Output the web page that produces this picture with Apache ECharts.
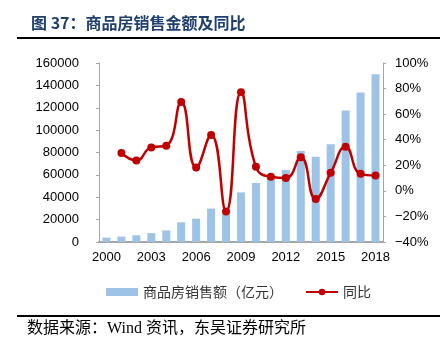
<!DOCTYPE html>
<html>
<head>
<meta charset="utf-8">
<script src="https://cdn.jsdelivr.net/npm/echarts@6/dist/echarts.min.js"></script>
<style>
  html, body { margin: 0; padding: 0; background: #fff; }
  #box { width: 440px; height: 353px; }
</style>
</head>
<body>
<div id="box"></div>
<script>
// 年份
var years = ['2000', '2001', '2002', '2003', '2004', '2005', '2006', '2007', '2008', '2009',
  '2010', '2011', '2012', '2013', '2014', '2015', '2016', '2017', '2018'];
// 商品房销售额（亿元）
var sales = [3935, 4863, 6032, 7956, 10376, 17576, 20826, 29889, 25068, 44355,
  52721, 58589, 64456, 81428, 76292, 87281, 117627, 133701, 149973];
// 同比（%），2000年无数据
var yoy = [null, 29.6, 23.8, 34, 35.3, 69.4, 18.3, 43.7, -16.2, 77.2,
  18.8, 11, 10, 26.2, -6.3, 14.1, 34.5, 13.3, 12];

var leftTicks = [0, 160000, 20000];
var rightTicks = [-40, 100, 20];

var axisGray = '#a6a6a6';
var font = '"Liberation Sans", Arial, sans-serif';
var cjk = '"Noto Sans CJK SC", sans-serif';

var myChart = echarts.init(document.getElementById('box'));

var option = {
  animation: false,
  title: {
    text: '图 37：商品房销售金额及同比',
    left: 26,
    top: 10,
    textStyle: {
      fontFamily: cjk,
      fontSize: 16,
      fontWeight: 'bold',
      color: '#1f3f6e'
    }
  },
  graphic: [
    {
      type: 'line',
      shape: { x1: 17, y1: 38, x2: 440, y2: 38 },
      style: { stroke: '#000', lineWidth: 2 }
    },
    {
      type: 'line',
      shape: { x1: 17, y1: 316, x2: 440, y2: 316 },
      style: { stroke: '#000', lineWidth: 2 }
    },
    {
      type: 'text',
      left: 27,
      top: 321,
      style: {
        text: '数据来源：Wind 资讯，东吴证券研究所',
        font: '16px "Liberation Serif", "Noto Sans CJK SC", serif',
        fill: '#000'
      }
    }
  ],
  legend: {
    left: 101,
    top: 280,
    itemGap: 22,
    itemWidth: 32,
    itemHeight: 8,
    textStyle: { fontFamily: cjk, fontSize: 14, color: '#333' },
    data: [
      { name: '商品房销售额（亿元）', icon: 'rect', itemStyle: { color: '#9dc3e6' } },
      { name: '同比' }
    ]
  },
  grid: {
    left: 99,
    right: 57,
    top: 63,
    bottom: 111
  },
  xAxis: {
    type: 'category',
    data: years,
    axisLine: { lineStyle: { color: axisGray, width: 2 } },
    axisTick: { show: false },
    axisLabel: {
      interval: 2,
      margin: 9,
      fontFamily: font,
      fontSize: 13,
      color: '#000'
    }
  },
  yAxis: [
    {
      type: 'value',
      min: leftTicks[0],
      max: leftTicks[1],
      interval: leftTicks[2],
      axisLine: { show: true, lineStyle: { color: axisGray } },
      axisTick: { show: true, length: 3, lineStyle: { color: axisGray } },
      splitLine: { show: false },
      axisLabel: {
        margin: 20,
        fontFamily: font,
        fontSize: 13,
        color: '#000',
        formatter: function (v) { return String(v); }
      }
    },
    {
      type: 'value',
      min: rightTicks[0],
      max: rightTicks[1],
      interval: rightTicks[2],
      axisLine: { show: true, lineStyle: { color: axisGray } },
      axisTick: { show: true, length: 3, lineStyle: { color: axisGray } },
      splitLine: { show: false },
      axisLabel: {
        margin: 12,
        fontFamily: font,
        fontSize: 13,
        color: '#000',
        formatter: function (v) { return (v < 0 ? '\u2212' + (-v) : v) + '%'; }
      }
    }
  ],
  series: [
    {
      name: '商品房销售额（亿元）',
      type: 'bar',
      data: sales,
      barWidth: 8,
      itemStyle: { color: '#9dc3e6' }
    },
    {
      name: '同比',
      type: 'line',
      yAxisIndex: 1,
      data: yoy,
      smooth: 0.5,
      symbol: 'circle',
      symbolSize: 8,
      lineStyle: { color: '#c00000', width: 2.5 },
      itemStyle: { color: '#c00000' }
    }
  ]
};

myChart.setOption(option);
</script>
</body>
</html>
